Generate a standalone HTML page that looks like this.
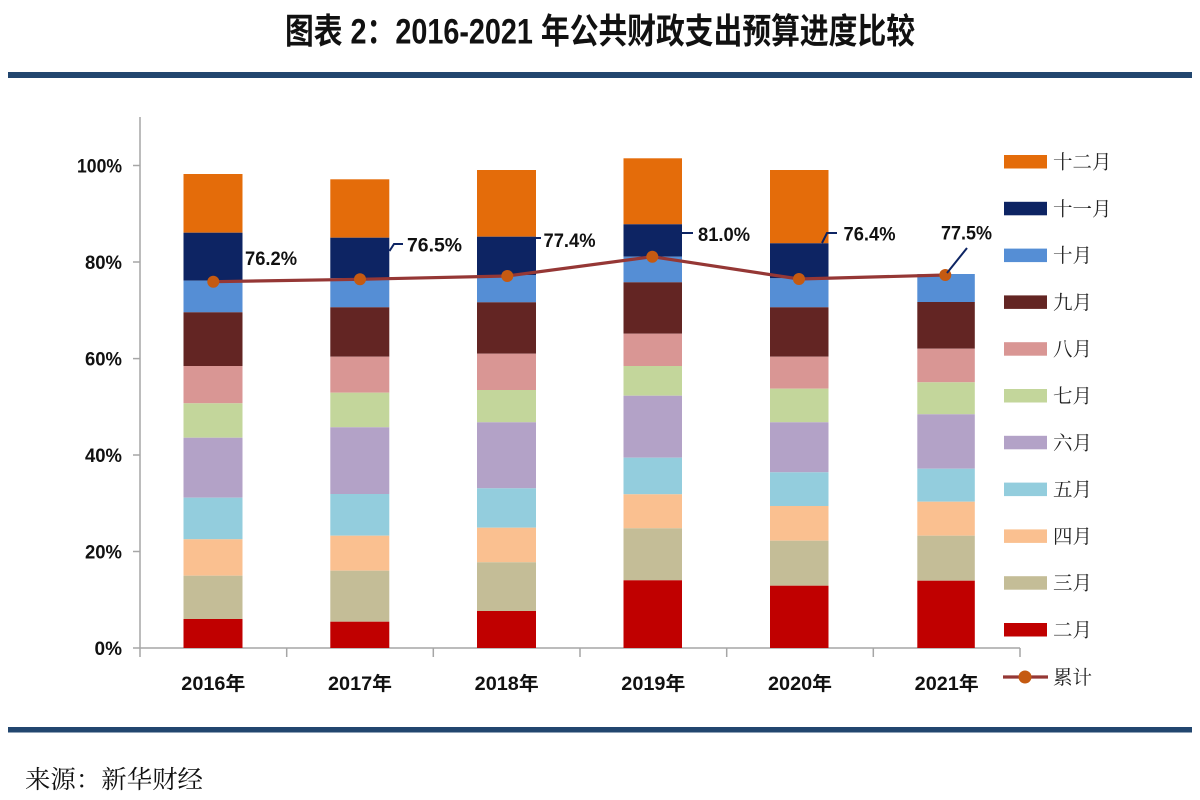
<!DOCTYPE html>
<html>
<head>
<meta charset="utf-8">
<style>
html,body{margin:0;padding:0;background:#fff;}
body{width:1200px;height:800px;overflow:hidden;}
svg{display:block;}
.ax{font-family:"Liberation Sans","Noto Sans CJK SC",sans-serif;font-weight:bold;font-size:18px;fill:#111;}
.ay{font-family:"Liberation Sans","Noto Sans CJK SC",sans-serif;font-weight:bold;font-size:19px;fill:#111;}
.lg{font-family:"Liberation Serif","Noto Serif CJK SC",serif;font-size:19.5px;fill:#222;}
</style>
</head>
<body>
<svg width="1200" height="800" viewBox="0 0 1200 800" xmlns="http://www.w3.org/2000/svg">
  <!-- Title -->
  <text x="285" y="43.5" textLength="630" lengthAdjust="spacingAndGlyphs" font-family="'Liberation Sans','Noto Sans CJK SC',sans-serif" font-weight="bold" font-size="35" fill="#111">图表 2：2016-2021 年公共财政支出预算进度比较</text>
  <!-- top rule -->
  <rect x="8" y="72" width="1184" height="6" fill="#22466f"/>
  <!-- bottom rule -->
  <rect x="8" y="727" width="1184" height="5.5" fill="#22466f"/>
  <!-- source -->
  <text x="25" y="788" textLength="178" lengthAdjust="spacingAndGlyphs" font-family="'Liberation Serif','Noto Serif CJK SC',serif" font-size="25" fill="#111">来源：新华财经</text>

  <!-- Axes -->
  <g stroke="#a6a6a6" stroke-width="1.5" fill="none">
    <line x1="140" y1="117" x2="140" y2="657"/>
    <line x1="133" y1="648" x2="1020" y2="648"/>
    <line x1="133" y1="551.5" x2="140" y2="551.5"/>
    <line x1="133" y1="455" x2="140" y2="455"/>
    <line x1="133" y1="358.6" x2="140" y2="358.6"/>
    <line x1="133" y1="262" x2="140" y2="262"/>
    <line x1="133" y1="165.5" x2="140" y2="165.5"/>
    <line x1="286.7" y1="648" x2="286.7" y2="657"/>
    <line x1="433.3" y1="648" x2="433.3" y2="657"/>
    <line x1="580" y1="648" x2="580" y2="657"/>
    <line x1="726.7" y1="648" x2="726.7" y2="657"/>
    <line x1="873.3" y1="648" x2="873.3" y2="657"/>
    <line x1="1020" y1="648" x2="1020" y2="657"/>
  </g>

  <!-- Y labels -->
  <g class="ay" text-anchor="end">
    <text x="122" y="655">0%</text>
    <text x="122" y="558.5" textLength="37" lengthAdjust="spacingAndGlyphs">20%</text>
    <text x="122" y="462" textLength="37" lengthAdjust="spacingAndGlyphs">40%</text>
    <text x="122" y="365.5" textLength="37" lengthAdjust="spacingAndGlyphs">60%</text>
    <text x="122" y="269" textLength="37" lengthAdjust="spacingAndGlyphs">80%</text>
    <text x="122" y="172.5" textLength="45" lengthAdjust="spacingAndGlyphs">100%</text>
  </g>

  <!-- X labels -->
  <g class="ay" text-anchor="middle">
    <text x="213.3" y="690" textLength="64" lengthAdjust="spacingAndGlyphs">2016年</text>
    <text x="360" y="690" textLength="64" lengthAdjust="spacingAndGlyphs">2017年</text>
    <text x="506.7" y="690" textLength="64" lengthAdjust="spacingAndGlyphs">2018年</text>
    <text x="653.3" y="690" textLength="64" lengthAdjust="spacingAndGlyphs">2019年</text>
    <text x="800" y="690" textLength="64" lengthAdjust="spacingAndGlyphs">2020年</text>
    <text x="946.7" y="690" textLength="64" lengthAdjust="spacingAndGlyphs">2021年</text>
  </g>

  <!-- Bars: 2016 -->
  <g>
    <rect x="183.5" y="174" width="59" height="58.7" fill="#e46c0a"/>
    <rect x="183.5" y="232.7" width="59" height="48" fill="#0d2463"/>
    <rect x="183.5" y="280.7" width="59" height="31.6" fill="#558ed5"/>
    <rect x="183.5" y="312.3" width="59" height="53.7" fill="#632523"/>
    <rect x="183.5" y="366" width="59" height="37.3" fill="#d99694"/>
    <rect x="183.5" y="403.3" width="59" height="34.4" fill="#c3d69b"/>
    <rect x="183.5" y="437.7" width="59" height="60" fill="#b3a2c7"/>
    <rect x="183.5" y="497.7" width="59" height="41.6" fill="#93cddd"/>
    <rect x="183.5" y="539.3" width="59" height="36.4" fill="#fac090"/>
    <rect x="183.5" y="575.7" width="59" height="43.3" fill="#c4bd97"/>
    <rect x="183.5" y="619" width="59" height="29" fill="#c00000"/>
  </g>
  <!-- 2017 -->
  <g>
    <rect x="330.3" y="179.3" width="59" height="58.4" fill="#e46c0a"/>
    <rect x="330.3" y="237.7" width="59" height="40.3" fill="#0d2463"/>
    <rect x="330.3" y="278" width="59" height="29.3" fill="#558ed5"/>
    <rect x="330.3" y="307.3" width="59" height="49.4" fill="#632523"/>
    <rect x="330.3" y="356.7" width="59" height="36" fill="#d99694"/>
    <rect x="330.3" y="392.7" width="59" height="34.6" fill="#c3d69b"/>
    <rect x="330.3" y="427.3" width="59" height="66.7" fill="#b3a2c7"/>
    <rect x="330.3" y="494" width="59" height="41.7" fill="#93cddd"/>
    <rect x="330.3" y="535.7" width="59" height="35" fill="#fac090"/>
    <rect x="330.3" y="570.7" width="59" height="51" fill="#c4bd97"/>
    <rect x="330.3" y="621.7" width="59" height="26.3" fill="#c00000"/>
  </g>
  <!-- 2018 -->
  <g>
    <rect x="477" y="170" width="59" height="66.7" fill="#e46c0a"/>
    <rect x="477" y="236.7" width="59" height="38.3" fill="#0d2463"/>
    <rect x="477" y="275" width="59" height="27.3" fill="#558ed5"/>
    <rect x="477" y="302.3" width="59" height="51.4" fill="#632523"/>
    <rect x="477" y="353.7" width="59" height="36.3" fill="#d99694"/>
    <rect x="477" y="390" width="59" height="32.3" fill="#c3d69b"/>
    <rect x="477" y="422.3" width="59" height="66" fill="#b3a2c7"/>
    <rect x="477" y="488.3" width="59" height="39.4" fill="#93cddd"/>
    <rect x="477" y="527.7" width="59" height="34.6" fill="#fac090"/>
    <rect x="477" y="562.3" width="59" height="48.7" fill="#c4bd97"/>
    <rect x="477" y="611" width="59" height="37" fill="#c00000"/>
  </g>
  <!-- 2019 -->
  <g>
    <rect x="623.5" y="158.3" width="58.5" height="66" fill="#e46c0a"/>
    <rect x="623.5" y="224.3" width="58.5" height="32.4" fill="#0d2463"/>
    <rect x="623.5" y="256.7" width="58.5" height="25.6" fill="#558ed5"/>
    <rect x="623.5" y="282.3" width="58.5" height="51.4" fill="#632523"/>
    <rect x="623.5" y="333.7" width="58.5" height="32.3" fill="#d99694"/>
    <rect x="623.5" y="366" width="58.5" height="29.7" fill="#c3d69b"/>
    <rect x="623.5" y="395.7" width="58.5" height="62" fill="#b3a2c7"/>
    <rect x="623.5" y="457.7" width="58.5" height="36.6" fill="#93cddd"/>
    <rect x="623.5" y="494.3" width="58.5" height="34" fill="#fac090"/>
    <rect x="623.5" y="528.3" width="58.5" height="52" fill="#c4bd97"/>
    <rect x="623.5" y="580.3" width="58.5" height="67.7" fill="#c00000"/>
  </g>
  <!-- 2020 -->
  <g>
    <rect x="770" y="170" width="58.5" height="73.3" fill="#e46c0a"/>
    <rect x="770" y="243.3" width="58.5" height="35" fill="#0d2463"/>
    <rect x="770" y="278.3" width="58.5" height="29" fill="#558ed5"/>
    <rect x="770" y="307.3" width="58.5" height="49.4" fill="#632523"/>
    <rect x="770" y="356.7" width="58.5" height="32" fill="#d99694"/>
    <rect x="770" y="388.7" width="58.5" height="33.6" fill="#c3d69b"/>
    <rect x="770" y="422.3" width="58.5" height="50" fill="#b3a2c7"/>
    <rect x="770" y="472.3" width="58.5" height="33.7" fill="#93cddd"/>
    <rect x="770" y="506" width="58.5" height="34.7" fill="#fac090"/>
    <rect x="770" y="540.7" width="58.5" height="45" fill="#c4bd97"/>
    <rect x="770" y="585.7" width="58.5" height="62.3" fill="#c00000"/>
  </g>
  <!-- 2021 -->
  <g>
    <rect x="917.3" y="274" width="57.5" height="28" fill="#558ed5"/>
    <rect x="917.3" y="302" width="57.5" height="46.7" fill="#632523"/>
    <rect x="917.3" y="348.7" width="57.5" height="33.6" fill="#d99694"/>
    <rect x="917.3" y="382.3" width="57.5" height="32" fill="#c3d69b"/>
    <rect x="917.3" y="414.3" width="57.5" height="54.4" fill="#b3a2c7"/>
    <rect x="917.3" y="468.7" width="57.5" height="33" fill="#93cddd"/>
    <rect x="917.3" y="501.7" width="57.5" height="34" fill="#fac090"/>
    <rect x="917.3" y="535.7" width="57.5" height="45" fill="#c4bd97"/>
    <rect x="917.3" y="580.7" width="57.5" height="67.3" fill="#c00000"/>
  </g>

  <!-- cumulative line -->
  <polyline points="213.3,281.7 360,279.3 507.3,276 652.3,256.7 799,279 945.3,275" fill="none" stroke="#953735" stroke-width="3.2" stroke-linejoin="round"/>
  <g fill="#c55a11">
    <circle cx="213.3" cy="281.7" r="6"/>
    <circle cx="360" cy="279.3" r="6"/>
    <circle cx="507.3" cy="276" r="6"/>
    <circle cx="652.3" cy="256.7" r="6"/>
    <circle cx="799" cy="279" r="6"/>
    <circle cx="945.3" cy="275" r="6"/>
  </g>

  <!-- leader lines -->
  <g stroke="#0d2463" stroke-width="2" fill="none">
    <polyline points="389.5,251 394,244 403,244"/>
    <line x1="536" y1="238" x2="541" y2="238"/>
    <line x1="682" y1="233" x2="693" y2="233"/>
    <polyline points="822,243 827,233 837,233"/>
    <line x1="947" y1="273" x2="967" y2="248"/>
  </g>

  <!-- data labels -->
  <g class="ay">
    <text x="245" y="265" textLength="52" lengthAdjust="spacingAndGlyphs">76.2%</text>
    <text x="407" y="251.5" textLength="55" lengthAdjust="spacingAndGlyphs">76.5%</text>
    <text x="543.5" y="247" textLength="52" lengthAdjust="spacingAndGlyphs">77.4%</text>
    <text x="698" y="241" textLength="52" lengthAdjust="spacingAndGlyphs">81.0%</text>
    <text x="843.5" y="240.5" textLength="52" lengthAdjust="spacingAndGlyphs">76.4%</text>
    <text x="941" y="239.5" textLength="51" lengthAdjust="spacingAndGlyphs">77.5%</text>
  </g>

  <!-- Legend -->
  <g>
    <rect x="1004" y="155" width="43" height="13.5" fill="#e46c0a"/>
    <rect x="1004" y="201.8" width="43" height="13.5" fill="#0d2463"/>
    <rect x="1004" y="248.6" width="43" height="13.5" fill="#558ed5"/>
    <rect x="1004" y="295.4" width="43" height="13.5" fill="#632523"/>
    <rect x="1004" y="342.2" width="43" height="13.5" fill="#d99694"/>
    <rect x="1004" y="389" width="43" height="13.5" fill="#c3d69b"/>
    <rect x="1004" y="435.8" width="43" height="13.5" fill="#b3a2c7"/>
    <rect x="1004" y="482.6" width="43" height="13.5" fill="#93cddd"/>
    <rect x="1004" y="529.4" width="43" height="13.5" fill="#fac090"/>
    <rect x="1004" y="576.2" width="43" height="13.5" fill="#c4bd97"/>
    <rect x="1004" y="623" width="43" height="13.5" fill="#c00000"/>
    <line x1="1003" y1="677" x2="1048" y2="677" stroke="#953735" stroke-width="3.2"/>
    <circle cx="1025" cy="677" r="6.5" fill="#c55a11"/>
  </g>
  <g class="lg">
    <text x="1053" y="168.5">十二月</text>
    <text x="1053" y="215.3">十一月</text>
    <text x="1053" y="262.1">十月</text>
    <text x="1053" y="308.9">九月</text>
    <text x="1053" y="355.7">八月</text>
    <text x="1053" y="402.5">七月</text>
    <text x="1053" y="449.3">六月</text>
    <text x="1053" y="496.1">五月</text>
    <text x="1053" y="542.9">四月</text>
    <text x="1053" y="589.7">三月</text>
    <text x="1053" y="636.5">二月</text>
    <text x="1053" y="684">累计</text>
  </g>
</svg>
</body>
</html>
